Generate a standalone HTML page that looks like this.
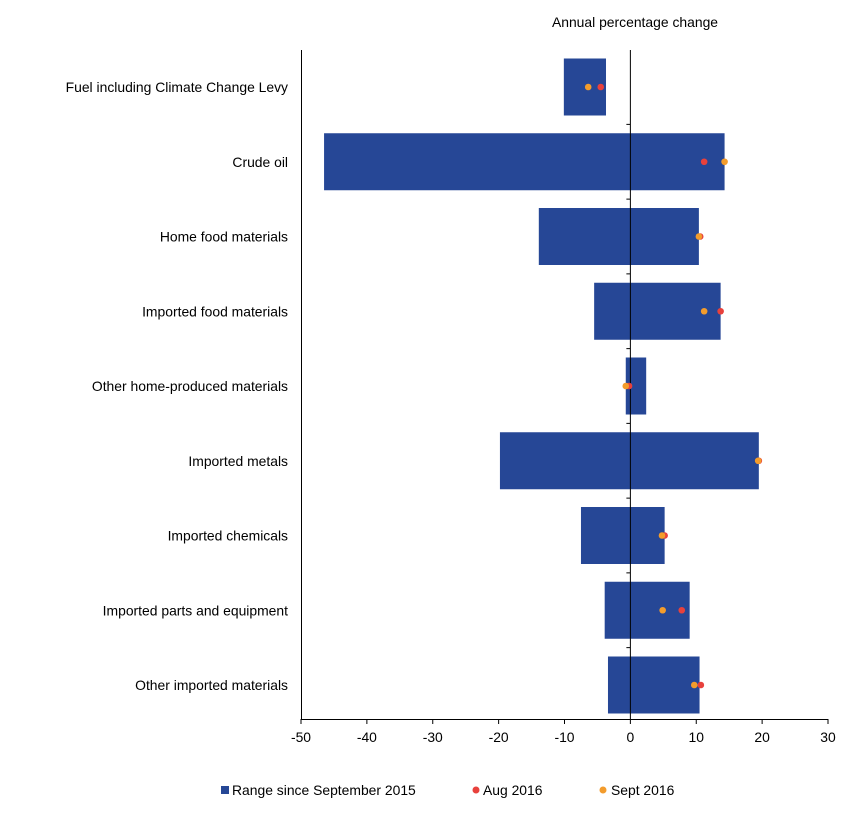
<!DOCTYPE html>
<html><head><meta charset="utf-8"><style>
body{margin:0;background:#fff;font-family:"Liberation Sans",sans-serif;}
svg text{font-family:"Liberation Sans",sans-serif;font-size:13.9px;fill:#000;}
</style></head><body>
<svg id="chart" width="849" height="831">
<text x="635" y="27" text-anchor="middle">Annual percentage change</text>
<g id="plot"></g>
<g>
<rect x="221" y="786" width="8" height="8" fill="#264796"/>
<text x="232" y="795">Range since September 2015</text>
<circle cx="476" cy="790" r="3.5" fill="#e8413c"/>
<text x="483" y="795">Aug 2016</text>
<circle cx="603" cy="790" r="3.5" fill="#f39c2c"/>
<text x="611" y="795">Sept 2016</text>
</g>
</svg>
<script>
const categories=["Fuel including Climate Change Levy","Crude oil","Home food materials","Imported food materials","Other home-produced materials","Imported metals","Imported chemicals","Imported parts and equipment","Other imported materials"];
const rangeMin=[-10.1,-46.5,-13.9,-5.5,-0.7,-19.8,-7.5,-3.9,-3.4];
const rangeMax=[-3.7,14.3,10.4,13.7,2.4,19.5,5.2,9.0,10.5];
const aug2016=[-4.5,11.2,10.6,13.7,-0.2,19.5,5.2,7.8,10.7];
const sept2016=[-6.4,14.3,10.4,11.2,-0.7,19.4,4.8,4.9,9.7];
const xTicks=[-50,-40,-30,-20,-10,0,10,20,30];
const NS="http://www.w3.org/2000/svg";
const L=301,R=828,T=50,B=719,xmin=-50,xmax=30;
const X=v=>L+(v-xmin)/(xmax-xmin)*(R-L);
const band=74.75;
const Y=i=>87+band*i;
const g=document.getElementById('plot');
function mk(tag,a){const e=document.createElementNS(NS,tag);for(const k in a)e.setAttribute(k,a[k]);g.appendChild(e);return e;}
categories.forEach((c,i)=>{
  const r=mk('rect',{x:X(rangeMin[i]),y:Y(i)-28.5,width:X(rangeMax[i])-X(rangeMin[i]),height:57,fill:'#264796'});
  
  
  const t=mk('text',{x:288,y:Y(i)+5,'text-anchor':'end'});t.textContent=c;
  
  
});
const zl=mk('line',{x1:X(0),x2:X(0),y1:T,y2:B,stroke:'#000','stroke-width':1});


for(let i=1;i<categories.length;i++){const tk=mk('line',{x1:X(0),x2:X(0)-4,y1:Y(i)-band/2,y2:Y(i)-band/2,stroke:'#000'});

}
categories.forEach((c,i)=>{
  const a=mk('circle',{cx:X(aug2016[i]),cy:Y(i),r:3.3,fill:'#e8413c'});
  
  
  const s=mk('circle',{cx:X(sept2016[i]),cy:Y(i),r:3.3,fill:'#f39c2c'});
  
  
});
const la=mk('line',{x1:L+0.5,x2:L+0.5,y1:T,y2:B,stroke:'#000'});


const ba=mk('line',{x1:L,x2:R,y1:B+0.5,y2:B+0.5,stroke:'#000'});


xTicks.forEach(v=>{
  const tk=mk('line',{x1:X(v),x2:X(v),y1:B,y2:B+5,stroke:'#000'});
  
  
  const t=mk('text',{x:X(v),y:B+23,'text-anchor':'middle'});t.textContent=v;
  
  
});
</script>
</body></html>
